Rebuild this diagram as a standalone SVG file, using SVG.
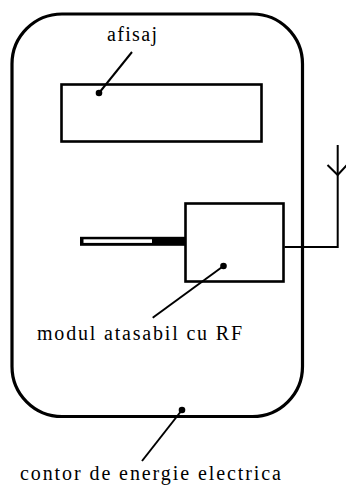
<svg xmlns="http://www.w3.org/2000/svg" width="346" height="486" viewBox="0 0 346 486">
<style>
.ln{stroke:#000;stroke-width:2;fill:none}
.dot{fill:#000}
</style>
<rect width="346" height="486" fill="#fff"/>
<g id="contor">
<rect x="12" y="14" width="290.5" height="402.5" rx="50" ry="50" fill="none" stroke="#000" stroke-width="3.2"/>
</g>
<g id="afisaj">
<rect x="61.5" y="84.5" width="200" height="57" fill="none" stroke="#000" stroke-width="2.6"/>
</g>
<g id="modul">
<rect x="185.5" y="203.5" width="98" height="78" fill="none" stroke="#000" stroke-width="2.6"/>
<rect x="80" y="236.8" width="105" height="9" fill="#000"/>
<rect x="83.5" y="239.3" width="68.5" height="3.6" fill="#fff"/>
</g>
<g id="antena">
<polyline points="284.5,247 337.7,247 337.7,145" class="ln"/>
<polyline points="327.5,165 337.7,175 347,165" class="ln"/>
</g>
<g id="connectors">
<line x1="99" y1="93" x2="132" y2="52" class="ln"/>
<circle cx="99" cy="93" r="3.3" class="dot"/>
<line x1="223.5" y1="266" x2="152.7" y2="317.7" class="ln"/>
<circle cx="223.5" cy="266" r="3.3" class="dot"/>
<line x1="182" y1="410" x2="142" y2="461" class="ln"/>
<circle cx="182" cy="410" r="3.3" class="dot"/>
</g>
<g id="labels" fill="#000">
<text font-family="Liberation Serif, DejaVu Serif, serif" font-size="20" x="107" y="41" textLength="50" lengthAdjust="spacing">afisaj</text>
<text font-family="Liberation Serif, DejaVu Serif, serif" font-size="20" x="37" y="340" textLength="205" lengthAdjust="spacing">modul atasabil cu RF</text>
<text font-family="Liberation Serif, DejaVu Serif, serif" font-size="20" x="20" y="480" textLength="261" lengthAdjust="spacing">contor de energie electrica</text>
</g>
</svg>
